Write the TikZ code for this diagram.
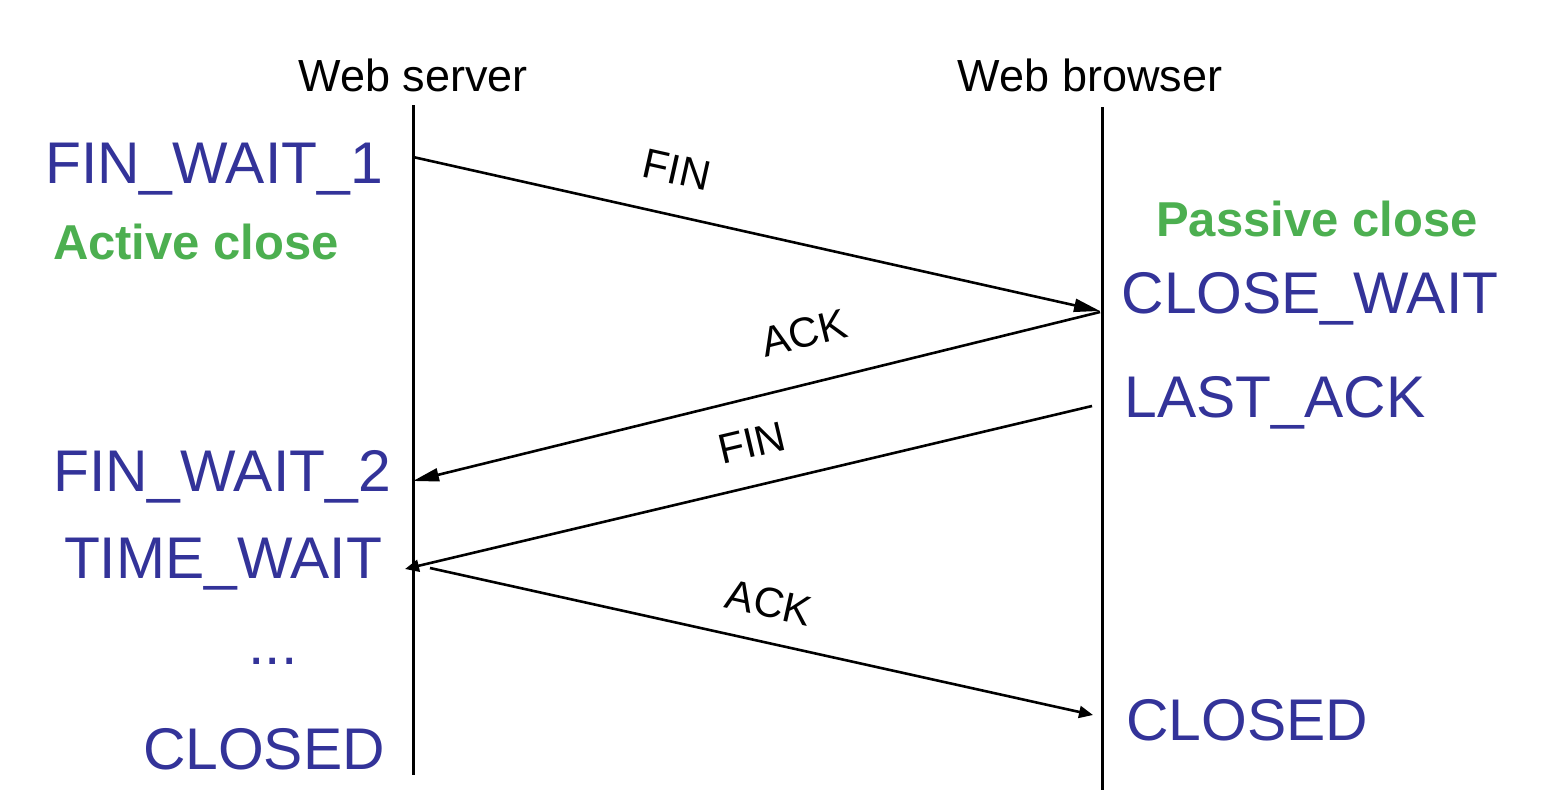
\documentclass[tikz,border=0pt]{standalone}
\usepackage{fontspec}
\setmainfont{Liberation Sans}
\usetikzlibrary{arrows.meta}
\definecolor{stateblue}{HTML}{333399}
\definecolor{closegreen}{HTML}{4CAF50}
\begin{document}
\begin{tikzpicture}[x=0.5pt,y=-0.5pt,
  life/.style={line width=1.5pt},
  msg/.style={line width=1.3pt},
  bighead/.style={-{Triangle[length=13pt,width=6.5pt]}},
  smallhead/.style={-{Triangle[length=7pt,width=6pt]}},
  host/.style={font=\fontsize{22.5}{26}\selectfont, inner sep=0pt},
  state/.style={text=stateblue, font=\fontsize{29.4}{34}\selectfont, inner sep=0pt},
  mode/.style={text=closegreen, font=\fontsize{24.5}{28}\bfseries\selectfont, inner sep=0pt},
  msglabel/.style={font=\fontsize{21}{24}\selectfont, inner sep=0pt}]
\useasboundingbox (0,0) rectangle (1556,798);
% lifelines
\coordinate (s0) at (413,105);
\coordinate (s1) at (413,775);
\coordinate (b0) at (1102,107);
\coordinate (b1) at (1102,790);
\draw[life] (s0) -- (s1);
\draw[life] (b0) -- (b1);
% hosts
\node[host] (server) at (413,75) {Web server};
\node[host] (browser) at (1090,75) {Web browser};
% message end points
\coordinate (m1a) at (413,157);
\coordinate (m1b) at (1100,311);
\coordinate (m2a) at (1100,312);
\coordinate (m2b) at (413,481);
\coordinate (m3a) at (1092,406);
\coordinate (m3b) at (405,569);
\coordinate (m4a) at (430,568);
\coordinate (m4b) at (1093,715);
\draw[msg,bighead] (m1a) -- (m1b);
\draw[msg,bighead] (m2a) -- (m2b);
\draw[msg,smallhead] (m3a) -- (m3b);
\draw[msg,smallhead] (m4a) -- (m4b);
% message labels
\node[msglabel, rotate=-12.6] (l1) at (677,170) {FIN};
\node[msglabel, rotate=13.8] (l2) at (804,333) {ACK};
\node[msglabel, rotate=13.3] (l3) at (752,443) {FIN};
\node[msglabel, rotate=-12.5] (l4) at (769,603) {ACK};
% states
\node[state] (fw1) at (214,169) {FIN\_WAIT\_1};
\node[mode] (active) at (196,242) {Active close};
\node[mode] (passive) at (1317,219) {Passive close};
\node[state] (cw) at (1310,299) {CLOSE\_WAIT};
\node[state] (la) at (1275,403) {LAST\_ACK};
\node[state] (fw2) at (222,477) {FIN\_WAIT\_2};
\node[state] (tw) at (223,564) {TIME\_WAIT};
\node[state] (dots) at (273,661) {...};
\node[state] (cl1) at (264,749) {CLOSED};
\node[state] (cl2) at (1247,720) {CLOSED};
\end{tikzpicture}
\end{document}
